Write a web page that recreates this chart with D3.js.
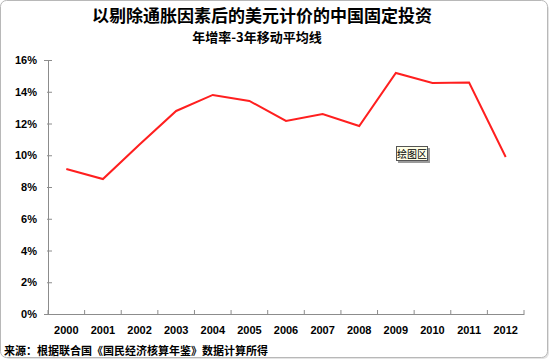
<!DOCTYPE html>
<html><head><meta charset="utf-8">
<script src="https://cdn.jsdelivr.net/npm/d3@7/dist/d3.min.js"></script>
<style>
html,body{margin:0;padding:0;background:#fff;}
svg{display:block;}
text{font-family:"Liberation Sans","Noto Sans CJK SC",sans-serif;}
.cjk{font-family:"Noto Sans CJK SC","Liberation Sans",sans-serif;}
</style></head>
<body>
<script>
const years = ["2000","2001","2002","2003","2004","2005","2006","2007","2008","2009","2010","2011","2012"];
const growth = [9.13, 8.50, 10.68, 12.79, 13.80, 13.42, 12.16, 12.60, 11.84, 15.18, 14.55, 14.58, 9.89];
const yTicks = [0, 2, 4, 6, 8, 10, 12, 14, 16];
const title = "以剔除通胀因素后的美元计价的中国固定投资";
const subtitle = "年增率-3年移动平均线";
const source = "来源：根据联合国《国民经济核算年鉴》数据计算所得";
const tipText = "绘图区";

const W = 550, H = 360;
const svg = d3.select("body").append("svg").attr("width", W).attr("height", H);

// frame with shadow
svg.append("rect").attr("x", 3).attr("y", 3).attr("width", W - 4).attr("height", H - 4)
  .attr("rx", 6).attr("fill", "#e4e4e4");
svg.append("rect").attr("x", 0.5).attr("y", 0.5).attr("width", W - 3).attr("height", H - 3)
  .attr("rx", 6).attr("fill", "#fff").attr("stroke", "#b8b8b8");

const x = d3.scaleBand().domain(years).range([48, 524]);
const y = d3.scaleLinear().domain([0, 16]).range([314, 60]);

// titles
svg.append("text").attr("class", "cjk").attr("x", 262).attr("y", 22).attr("text-anchor", "middle")
  .attr("font-size", 17).attr("font-weight", "bold").attr("fill", "#000").text(title);
svg.append("text").attr("class", "cjk").attr("x", 257).attr("y", 42).attr("text-anchor", "middle")
  .attr("font-size", 13).attr("font-weight", "bold").attr("fill", "#000").text(subtitle);

// y axis
const yAxis = d3.axisLeft(y).tickValues(yTicks).tickFormat(d => d + "%").tickSize(4).tickPadding(8);
const gy = svg.append("g").attr("transform", "translate(48,0)").call(yAxis);
gy.select(".domain").attr("stroke", "#8c8c8c");
gy.selectAll(".tick line").attr("stroke", "#8c8c8c").attr("x2", 4).attr("x1", -1);
gy.selectAll(".tick text").attr("font-size", 11).attr("font-weight", "bold").attr("fill", "#000")
  .attr("x", -11);

// x axis
const xAxis = d3.axisBottom(x).tickSize(0).tickPadding(12);
const gx = svg.append("g").attr("transform", "translate(0,314)").call(xAxis);
gx.select(".domain").attr("stroke", "#8c8c8c");
gx.selectAll(".tick text").attr("font-size", 11).attr("font-weight", "bold").attr("fill", "#000");
// category boundary ticks
const bounds = years.map(d => x(d)).concat([x(years[years.length - 1]) + x.bandwidth()]);
svg.append("g").selectAll("line").data(bounds).join("line")
  .attr("x1", d => d).attr("x2", d => d).attr("y1", 314).attr("y2", 310)
  .attr("stroke", "#8c8c8c");

// line
const line = d3.line().x((d, i) => x(years[i]) + x.bandwidth() / 2).y(d => y(d));
svg.append("path").datum(growth).attr("d", line).attr("fill", "none")
  .attr("stroke", "#ff1f1f").attr("stroke-width", 2).attr("stroke-linejoin", "miter");

// tooltip box
const tip = svg.append("g").attr("transform", "translate(396,146)");
tip.append("rect").attr("x", 2).attr("y", 2).attr("width", 32).attr("height", 15).attr("fill", "#9a9a9a");
tip.append("rect").attr("x", 0.5).attr("y", 0.5).attr("width", 31).attr("height", 14)
  .attr("fill", "#ffffe6").attr("stroke", "#555");
tip.append("text").attr("class", "cjk").attr("x", 16).attr("y", 11.5).attr("text-anchor", "middle")
  .attr("font-size", 10).attr("fill", "#000").text(tipText);

// source
svg.append("text").attr("class", "cjk").attr("x", 4).attr("y", 355)
  .attr("font-size", 11).attr("font-weight", "bold").attr("fill", "#000").text(source);
</script>
</body></html>
